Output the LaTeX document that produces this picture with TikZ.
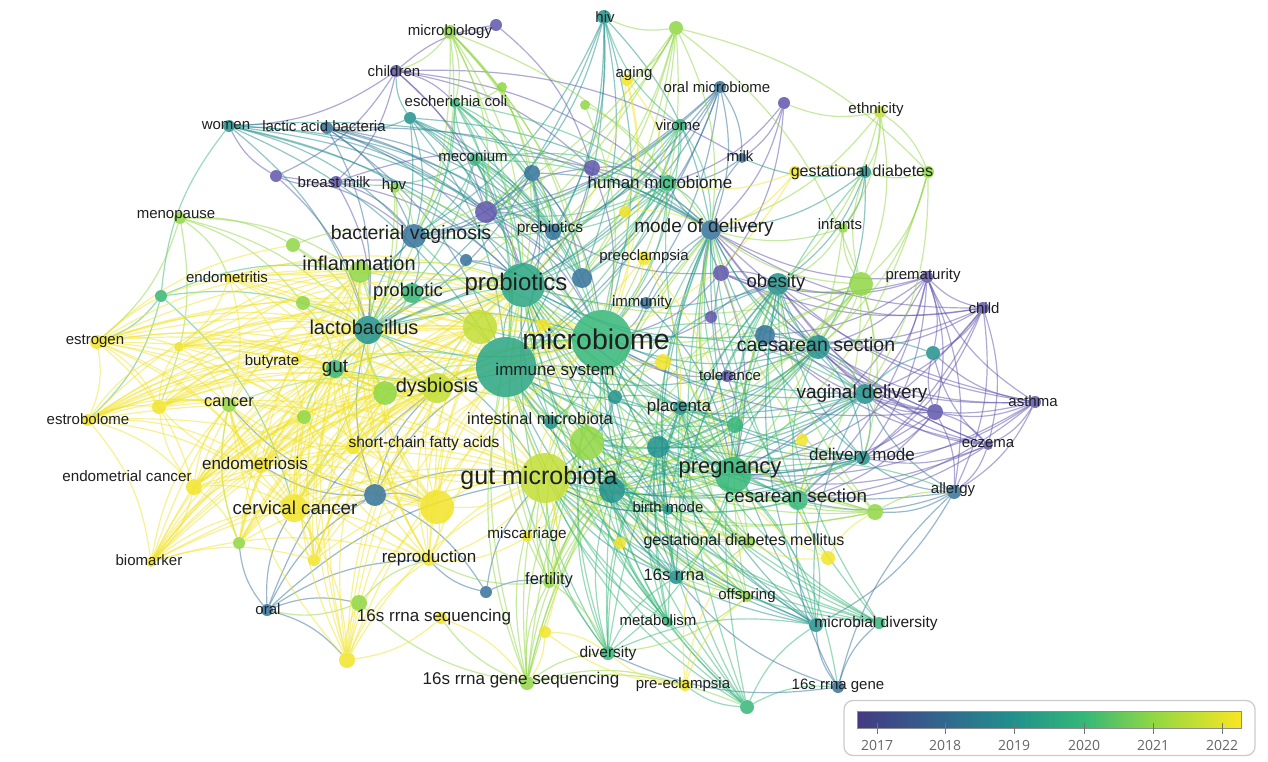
\documentclass[tikz,border=0pt]{standalone}
\usepackage{fontspec}
\setmainfont{Liberation Sans}
\newfontfamily\legendfont{Open Sans}
\usepackage{tikz}

\definecolor{yr17}{RGB}{95,85,170}
\definecolor{yr18}{RGB}{52,115,155}
\definecolor{yr19}{RGB}{33,145,140}
\definecolor{yr195}{RGB}{42,165,130}
\definecolor{yr20}{RGB}{53,183,121}
\definecolor{yr21}{RGB}{144,215,67}
\definecolor{yr215}{RGB}{195,222,52}
\definecolor{yr22}{RGB}{242,228,40}
\definecolor{vir0}{RGB}{68,57,131}
\definecolor{vir1}{RGB}{49,104,142}
\definecolor{vir2}{RGB}{33,145,140}
\definecolor{vir3}{RGB}{53,183,121}
\definecolor{vir4}{RGB}{144,215,67}
\definecolor{vir5}{RGB}{250,230,35}

\pgfdeclarelayer{paper}
\pgfdeclarelayer{edges}
\pgfsetlayers{paper,edges,main}

\begin{document}
\begin{tikzpicture}[x=1pt,y=-1pt]
\tikzstyle{kw}=[circle, inner sep=0pt, fill opacity=0.85]
\tikzstyle{lbl}=[inner sep=0pt, text=black!88]
\tikzstyle{link}=[line width=1.2pt, draw opacity=0.5]
\useasboundingbox (0,0) rectangle (1268,762);
\begin{pgfonlayer}{paper}
\fill[white] (0,0) rectangle (1268,762);
\end{pgfonlayer}

% terms
\foreach \n/\x/\y/\r/\c in {
mbl/450/32/7/yr21, u1/496/25/6/yr17, hiv/604/17/7/yr19, u2/676/28/7/yr21,
chd/396/71/6/yr17, age/627/80/6/yr22, orm/720/87/6/yr18, u3/784/103/6/yr17,
eth/880/112/6/yr215, eco/455/103/5/yr20, u4/502/87/5/yr21, u5/585/105/5/yr21,
wom/229/126/6/yr19, lab/327/128/6/yr18, u6/410/118/6/yr19, vir/680/125/6/yr20,
mec/475/160/6/yr20, mlk/742/158/5/yr18, u7/276/176/6/yr17, bm/336/182/6/yr17,
hpv/395/188/5/yr21, u8/532/173/8/yr18, u9/592/168/8/yr17, hm/668/183/8/yr20,
gd/865/172/6/yr19, u10/795/172/6/yr22, u11/928/172/6/yr21, men/180/218/6/yr21,
u12/486/212/11/yr17, bv/414/236/12/yr18, pre/553/232/8/yr18, mod/711/230/10/yr18,
inf/843/228/5/yr21, u13/625/212/6/yr22, u14/293/245/7/yr21, u15/466/260/6/yr18,
pe/644/258/7/yr22, inm/360/272/11/yr21, emt/229/278/5/yr22, u16/721/273/8/yr17,
pmt/927/277/6/yr17, u17/582/278/10/yr18, prs/523/285/22/yr195, prc/412/293/10/yr20,
obe/778/284/11/yr19, u18/861/284/12/yr21, imm/646/303/6/yr18, u19/161/296/6/yr20,
u20/303/303/7/yr21, chl/983/308/6/yr17, u21/480/327/17/yr215, lac/368/330/14/yr19,
u22/711/317/6/yr17, mic/602/340/30/yr20, est/97/342/7/yr22, u24/179/347/5/yr22,
u50/543/325/6/yr22, cs/818/347/12/yr19, u48/765/335/10/yr18, u49/933/353/7/yr19,
but/298/360/4/yr22, gut/335/369/9/yr20, ims/506/367/30/yr195, u25/663/362/8/yr22,
tol/727/376/6/yr17, dys/437/388/15/yr215, u26/385/393/12/yr21, vd/865/394/10/yr19,
u27/935/412/8/yr17, ast/1035/402/6/yr17, can/229/405/7/yr21, ebl/88/420/6/yr22,
u28/159/407/7/yr22, u29/304/417/7/yr21, imb/551/422/7/yr19, u51/615/397/7/yr19,
pla/680/408/7/yr19, u30/735/425/8/yr20, scfa/353/447/7/yr22, u31/587/443/17/yr21,
u32/658/447/11/yr19, u33/802/440/6/yr22, ecz/988/445/5/yr17, emd/261/465/8/yr22,
dm/863/458/7/yr19, gm/545/478/25/yr215, preg/733/475/18/yr20, emc/194/487/8/yr22,
u34/375/495/11/yr18, u35/612/490/13/yr19, cs2/798/500/10/yr20, all/954/492/7/yr18,
cc/294/508/14/yr22, u36/437/507/17/yr22, bmd/668/510/5/yr19, u37/875/512/8/yr21,
u38/239/543/6/yr21, misc/527/537/5/yr22, gdm/749/542/6/yr21, u39/620/543/6/yr22,
u40/828/558/7/yr22, bio/151/562/5/yr22, rep/429/560/6/yr22, u41/314/560/6/yr22,
r16/676/577/7/yr19, fer/549/582/6/yr21, u42/486/592/6/yr18, off/747/597/5/yr21,
oral/267/610/6/yr18, u43/359/603/8/yr21, rseq/441/618/6/yr22, met/668/622/5/yr20,
md1/816/625/7/yr19, u44/879/623/6/yr20, u45/545/632/6/yr22, div/608/653/7/yr20,
u46/347/660/8/yr22, rgs/527/683/7/yr21, pec/685/685/6/yr22, rg/838/687/6/yr18,
u47/747/707/7/yr20}
  \node[kw, fill=\c, minimum size=2*\r] (\n) at (\x,\y) {};

\foreach \n/\x/\y/\s/\t in {
mbl/450/32/15/microbiology, hiv/605/17/15/hiv, chd/394/71/15/children,
age/634/74/15/aging, orm/717/87/15/oral microbiome, eth/876/110/15/ethnicity,
eco/456/101/15/escherichia coli, wom/226/126/15/women, lab/324/126/15/lactic acid bacteria,
vir/678/125/15/virome, mec/473/156/15/meconium, mlk/740/156/15/milk,
bm/334/182/15/breast milk, hpv/394/186/15/hpv, hm/660/182/17/human microbiome,
gd/862/172/16/gestational diabetes, men/176/216/15/menopause,
bv/411/234/19.5/bacterial vaginosis, pre/550/228/15.5/prebiotics,
mod/704/228/19/mode of delivery, inf/840/224/15/infants, pe/644/257/15/preeclampsia,
inm/359/263/20/inflammation, emt/227/277/15/endometritis, pmt/923/276/15/prematurity,
prs/516/284/24/probiotics, prc/408/292/18.5/probiotic, obe/776/283/18.5/obesity,
imm/642/303/15/immunity, chl/984/308/15/child, lac/364/327/20/lactobacillus,
mic/596/339/28.5/microbiome, est/95/341/15/estrogen, cs/816/345/19.5/caesarean section,
but/272/362/15/butyrate, gut/335/368/19/gut, ims/555/371/17/immune system,
tol/730/375/15/tolerance, dys/437/387/20/dysbiosis, vd/862/394/19/vaginal delivery,
ast/1033/401/15/asthma, can/229/402/16.5/cancer, ebl/88/419/15/estrobolome,
imb/540/419/16.5/intestinal microbiota, scfa/424/443/15.5/short-chain fatty acids,
pla/679/407/17/placenta, ecz/988/444/15/eczema, emd/255/463/17/endometriosis,
dm/862/456/17/delivery mode, gm/539/478/25/gut microbiota, preg/730/470/22/pregnancy,
emc/127/476/15.2/endometrial cancer, cs2/796/496/18.8/cesarean section,
all/953/490/15/allergy, cc/295/508/18.7/cervical cancer, bmd/668/507/15/birth mode,
misc/527/535/15.3/miscarriage, gdm/744/541/16/gestational diabetes mellitus,
bio/149/560/15/biomarker, rep/429/558/17/reproduction, r16/674/575/16.5/16s rrna,
fer/549/580/16.5/fertility, off/747/596/15/offspring, oral/268/609/15/oral,
rseq/434/617/17/16s rrna sequencing, met/658/620/15/metabolism,
md1/876/623/15.5/microbial diversity, div/608/653/15.5/diversity,
rgs/521/680/17/16s rrna gene sequencing, pec/683/685/15/pre-eclampsia,
rg/838/686/15/16s rrna gene}
  \node[lbl, font=\fontsize{\s}{\s}\selectfont] (t-\n) at (\x,\y) {\t};

\begin{pgfonlayer}{edges}
\foreach \a/\b in {
chd/u1, chd/wom, chd/bm, chd/eco, chd/u12, chd/hm, chd/mlk, chd/u9, chd/u7, chd/prs,
u1/mbl, u1/u9, u3/mlk, u3/mod, u3/u16, u3/hm,
chl/pmt, chl/ecz, chl/u16, ast/u27, ast/ecz, ast/pmt, pmt/u27, pmt/u16, u27/ecz, u27/mic,
bm/u7, bm/bv, bm/lac, bm/prs, bm/u12, bm/u9,
u12/prs, u12/mic, u12/bv, u12/u9, u12/pre,
u16/mod, u16/obe, u16/mic, u16/cs, u16/pre, u16/preg,
u9/prs, u9/mic, u9/hm, u9/mod, u7/wom, u7/bv, u7/lac,
tol/mic, tol/preg, tol/u16, tol/cs, u22/mic, u22/obe, u22/mod}
  \draw[link, yr17] (\a) to[bend left=16] (\b);
\foreach \a in {chl,ast,pmt,u27,ecz}
  \foreach \b in {vd,cs,dm,obe,mod,preg,all,u49,u48,cs2}
    \draw[link, yr17] (\a) to[bend left=16] (\b);
\foreach \a/\b in {
orm/mlk, oral/cc, oral/u34, oral/u43, oral/rep, oral/u38, oral/u46, oral/dys, oral/gm,
u34/cc, u34/gm, u34/dys, u34/emd, u34/u36, u34/can, u34/lac, u34/ims, u34/u42,
all/cs2, all/vd, all/dm, all/u37, all/u32, all/md1, mod/hm, mod/mlk,
bv/prc, bv/u15, bv/inm, rg/md1, rg/u44, rg/all, rg/cs2, rg/r16, rg/div,
u15/prs, u15/mic, mlk/hm, u42/rep, u42/gm, u42/fer, imm/mic, imm/preg, imm/mod}
  \draw[link, yr18] (\a) to[bend left=16] (\b);
\foreach \a/\c in {hiv/yr19, wom/yr19, lab/yr18, mec/yr20, u8/yr18, u6/yr19, vir/yr20,
  orm/yr18, eco/yr20, hm/yr20, u2/yr21, mbl/yr21}
  \foreach \b in {prs,mic,bv,lac,mod,pre,u17,ims,u12}
    \draw[link, \c] (\a) to[bend left=16] (\b);
\foreach \a/\b in {
ims/prs, ims/mic, ims/pla, ims/u35, lac/prs, lac/mic, lac/gm, lac/bv,
cs/vd, cs/dm, cs/u48, cs/u49, vd/dm, vd/u49, md1/vd, gd/mod, gd/obe, gd/inf, gd/mlk, gd/cs,
obe/prs, obe/u48, u48/prs, imb/prs, pla/mod, u51/mic, u51/preg, bmd/gm, u6/chd, u6/lab}
  \draw[link, yr19] (\a) to[bend left=16] (\b);
\foreach \a/\c in {preg/yr20, cs2/yr20, vd/yr19, cs/yr19, dm/yr19, u18/yr21, u37/yr21,
  u30/yr20, gdm/yr21, off/yr21, div/yr20, r16/yr19, md1/yr19, u47/yr20, rgs/yr21,
  fer/yr21, met/yr20, bmd/yr19, u44/yr20, u51/yr19}
  \foreach \b in {mic,prs,ims,gm,u31,u35,u32,pla,mod,obe}
    \draw[link, \c] (\a) to[bend left=16] (\b);
\foreach \a/\b in {
preg/cs, preg/vd, preg/dm, preg/cs2, preg/gd, preg/r16, preg/div, preg/md1, preg/rg, preg/all,
preg/hm, mic/cs, mic/vd, mic/bv, mic/lac, mic/prc, mic/hm, mic/u8, mic/imb, mic/gut,
cs2/vd, cs2/dm, cs2/cs, cs2/md1, prc/lac, prc/prs, prc/ims, gut/lac, gut/prs, gut/ims,
vir/hm, vir/hiv, mec/eco, mec/hm, mec/bm, u47/pec, u47/rg, u47/md1, div/md1, div/r16,
eco/u8, u19/lac, u19/est, u19/ebl, u19/inm, u19/cc, u19/wom}
  \draw[link, yr20] (\a) to[bend left=16] (\b);
\foreach \a/\b in {
men/emt, men/est, men/u28, men/u14, men/lac, men/u20, men/inm,
u2/u18, u2/u11, u2/hiv, u2/age, eth/u18, eth/gd, eth/u11, eth/obe, eth/mod, eth/inf, eth/u3,
u11/u18, u11/preg, u11/cs, u11/vd, u11/gd,
u18/cs, u18/gd, u18/inf, u18/vd, u18/cs2, u18/dm,
rgs/div, rgs/u43, rgs/rseq, rgs/fer, rgs/u47, rgs/pec,
dys/mic, dys/prs, dys/ims, dys/lac, dys/u26, dys/u31, dys/inm, dys/gut,
mbl/eco, mbl/u8, mbl/chd, hpv/cc, hpv/bv, hpv/lac, hpv/mic,
u31/mic, u31/ims, u31/prs, u26/lac, u26/gut, u26/inm, u26/ims,
inm/prs, inm/mic, inm/lac, inm/prc, inm/u14, u14/lac, u14/bv, u20/lac, u20/gut,
u29/lac, u29/gut, u38/can, u43/rep, u43/oral, u37/all,
gdm/r16, off/r16, off/div, fer/rep, fer/div, u4/eco, u4/prs, u5/hm, u5/mic,
inf/mod, inf/preg, inf/obe, can/dys}
  \draw[link, yr21] (\a) to[bend left=16] (\b);
\foreach \a in {est,ebl,emc,emd,cc,bio,u28,u24,emt,u41,u46,u36,scfa,rep,u38}
  \foreach \b in {gm,dys,u21,lac,inm,u26,u29,gut,can,prs,mic,ims}
    \draw[link, yr22] (\a) to[bend left=16] (\b);
\foreach \a/\b in {
est/u28, est/u24, est/emd, est/cc, est/emc, est/u14, est/u36, est/emt, est/ebl,
ebl/u28, ebl/emc, ebl/cc, ebl/emd, ebl/u24, ebl/u36, ebl/bio, ebl/but,
emc/cc, emc/emd, emc/u36, emc/bio, emc/u38, emc/u28,
bio/cc, bio/rep, bio/u36, bio/emd, bio/u41, emd/cc, emd/u36, emd/u28, emd/scfa,
cc/u36, cc/rep, cc/u46, cc/u41, cc/scfa, u46/u43, u46/rep, u46/u36, u28/u24, emt/u24,
gm/prs, gm/ims, gm/u31, gm/u36, gm/preg, gm/u35, gm/misc, gm/fer, gm/rep, gm/scfa,
gm/pe, gm/u25, gm/u39, gm/u45, gm/imb, u36/rep, u36/scfa,
u21/mic, u21/prs, u21/ims, pec/preg, pec/gdm, pec/off, pec/u45, pec/div,
u40/cs2, u40/preg, u40/gdm, u40/u37, u10/gd, u10/mod, u10/hm, u10/mic,
age/hm, age/mic, age/prs, age/u13, u13/mic, u13/mod, pe/mic, pe/preg, pe/pla,
u45/rgs, u45/div, u39/preg, u39/gdm, misc/preg, misc/rep, u25/mic, u25/preg,
u50/mic, u50/prs, scfa/u34, rseq/u46, rseq/rgs, but/gut, but/lac, u33/preg, u33/cs2}
  \draw[link, yr22] (\a) to[bend left=16] (\b);
\end{pgfonlayer}

% legend
\node[draw=black!20, line width=1.3pt, rounded corners=9pt, minimum width=411pt,
  minimum height=55pt, inner sep=0pt] (legend) at (1049.5,728) {};
\shade[left color=vir0, right color=vir1] (857,711) rectangle (945,728);
\shade[left color=vir1, right color=vir2] (945,711) rectangle (1014,728);
\shade[left color=vir2, right color=vir3] (1014,711) rectangle (1084,728);
\shade[left color=vir3, right color=vir4] (1084,711) rectangle (1153,728);
\shade[left color=vir4, right color=vir5] (1153,711) rectangle (1241,728);
\draw[black!45, line width=0.8pt] (857,711) rectangle (1241,728);
\foreach \x/\yr in {877/2017, 945/2018, 1014/2019, 1084/2020, 1153/2021, 1222/2022} {
  \draw[black!55, line width=0.8pt] (\x,723) -- (\x,734);
  \node[text=black!60, font=\legendfont\fontsize{14}{14}\selectfont] (y\yr) at (\x,745) {\yr};
}
\end{tikzpicture}
\end{document}
